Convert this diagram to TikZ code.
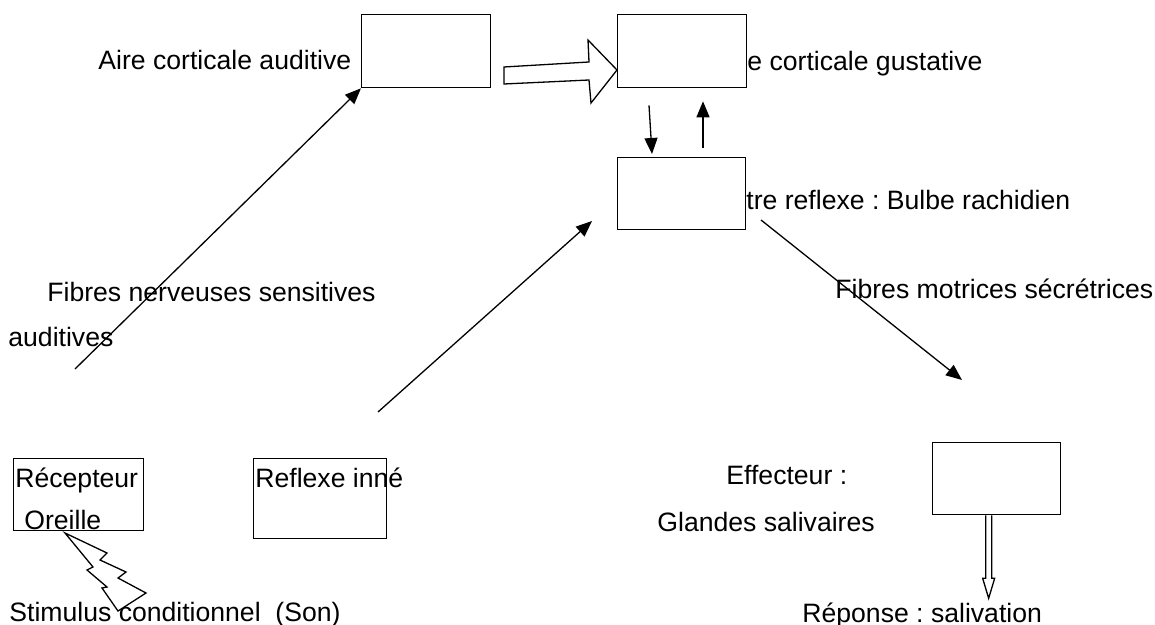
\documentclass[tikz,border=0pt]{standalone}
\usepackage{fontspec}
\setmainfont{Liberation Sans}
\usetikzlibrary{arrows.meta,positioning,calc}
\frenchspacing

\begin{document}
\begin{tikzpicture}[
    x=0.5pt, y=-0.5pt,
    box/.style={rectangle, draw, line width=0.65pt, fill=white, anchor=north west, inner sep=0pt, minimum width=64.5pt, minimum height=36.5pt},
    lbl/.style={anchor=base west, inner sep=0pt, font=\fontsize{13.3}{16}\selectfont},
    arrow/.style={-{Triangle[length=8pt,width=6.5pt]}, line width=0.65pt},
    hollow/.style={draw, line width=0.65pt, fill=white, line join=miter}
]
    \useasboundingbox (0,0) rectangle (1155,625);

    % boxes
    \node[box] (aud) at (361,14) {};
    \node[box] (gus) at (617,14) {};
    \node[box, minimum width=64pt, minimum height=36pt] (bulbe) at (617,157) {};
    \node[box, minimum width=65pt, minimum height=36pt] (recep) at (13,458) {};
    \node[box, minimum width=66.5pt, minimum height=40pt] (reflexe) at (253,458) {};
    \node[box, minimum width=64pt, minimum height=36pt] (eff) at (932,442) {};

    % texts
    \node[lbl] (taud) at (98,70) {Aire corticale auditive};
    \node[lbl] (tgus) at (747,71) {e corticale gustative};
    \node[lbl] (tbulbe) at (746,210) {tre reflexe : Bulbe rachidien};
    \node[lbl] (tsens) at (47,302) {Fibres nerveuses sensitives};
    \node[lbl] (tsens2) at (8,346) {auditives};
    \node[lbl] (tmot) at (835,299) {Fibres motrices sécrétrices};
    \node[lbl] (trecep) at (15,487) {Récepteur};
    \node[lbl] (toreille) at (24,529) {Oreille};
    \node[lbl] (treflexe) at (255,487) {Reflexe inné};
    \node[lbl] (teff) at (726,484) {Effecteur :};
    \node[lbl] (tglandes) at (657,531) {Glandes salivaires};
    \node[lbl] (tstim) at (9,621) {Stimulus conditionnel\ \ (Son)};
    \node[lbl] (trep) at (802,622) {Réponse : salivation};

    % free ends
    \coordinate (s1) at (75,369);
    \coordinate (s2) at (378,412);
    \coordinate (e2) at (592,221);
    \coordinate (s3) at (761,220);
    \coordinate (e3) at (962,380);

    \draw[arrow] (s1) -- (aud.south west);
    \draw[arrow] (s2) -- (e2);
    \draw[arrow] (s3) -- (e3);
    \draw[arrow] ($(gus.south west)+(32,17)$) -- ($(bulbe.north west)+(35,-3)$);
    \draw[arrow] ($(bulbe.north west)+(86,-9)$) -- ($(gus.south west)+(86,13)$);

    % block arrow aud -> gus
    \path[hollow] (504,67) -- (589,62) -- (588,40) -- (gus.west |- 0,70) -- (591,103) -- (589,80) -- (504,84) -- cycle;

    % effector -> response
    \path[hollow] ($(eff.south)+(-11,0)$) -- ++(0,63) -- ++(-3,0) -- ++(6,20) -- ++(6,-20) -- ++(-3,0) -- ++(0,-63);

    % lightning
    \path[hollow] (65,533) -- (107,553) -- (100,560) -- (126,572) -- (118,578) -- (146,593) -- (118,611) -- (102,588) -- (107,587) -- (87,570) -- (93,567) -- cycle;
\end{tikzpicture}
\end{document}
